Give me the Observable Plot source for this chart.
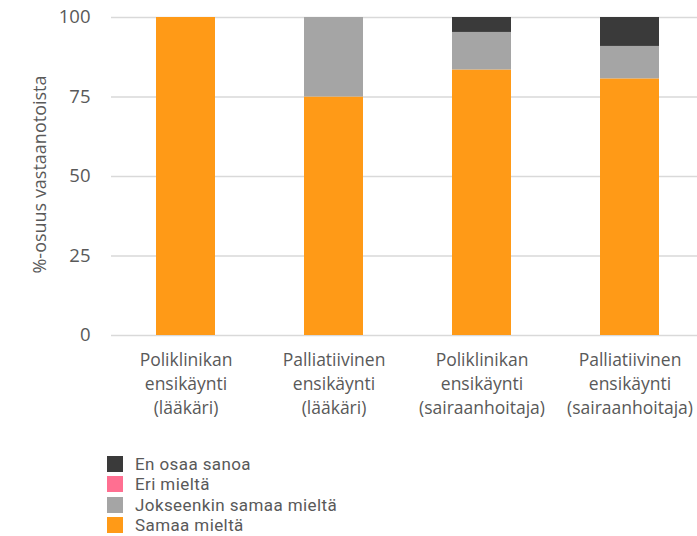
<!DOCTYPE html>
<html><head><meta charset="utf-8">
<script src="https://cdn.jsdelivr.net/npm/d3@7"></script>
<script src="https://cdn.jsdelivr.net/npm/@observablehq/plot@0.6"></script>
<style>
body{margin:0;background:#fff;font-family:"Open Sans",sans-serif;}
#legend{margin-left:107px;margin-top:24px;font-family:Roboto,sans-serif;font-size:17px;line-height:20px;letter-spacing:0.4px;color:#595959;}
.row{display:flex;align-items:center;height:20.3px;}
.sw{width:16px;height:16px;margin-right:12px;flex:none;}
</style></head>
<body><div id="chart"></div><div id="legend"></div>
<script>
const categories = [
  "Poliklinikan\nensikäynti\n(lääkäri)",
  "Palliatiivinen\nensikäynti\n(lääkäri)",
  "Poliklinikan\nensikäynti\n(sairaanhoitaja)",
  "Palliatiivinen\nensikäynti\n(sairaanhoitaja)"
];
const seriesNames = ["Samaa mieltä","Jokseenkin samaa mieltä","Eri mieltä","En osaa sanoa"];
const samaa = [100, 75, 83.5, 80.7];
const jokseenkin = [0, 25, 11.8, 10.2];
const eri = [0, 0, 0, 0];
const enOsaa = [0, 0, 4.7, 9.1];
const colors = ["#ff9a17", "#a5a5a5", "#ff6f91", "#3a3a3a"];
const yTicks = [0, 25, 50, 75, 100];
const yLabel = "%-osuus vastaanotoista";

const seriesValues = [samaa, jokseenkin, eri, enOsaa];
const data = [];
seriesNames.forEach((s, i) => categories.forEach((c, j) => data.push({cat: c, series: s, value: seriesValues[i][j]})));

const chart = Plot.plot({
  width: 697, height: 430,
  marginLeft: 111, marginRight: 0, marginTop: 17, marginBottom: 95,
  style: {fontFamily: "'Open Sans', sans-serif", color: "#595959", background: "#fff"},
  x: {domain: categories, range: [112, 704], paddingInner: 0.6, paddingOuter: 0.3},
  y: {domain: [0, 100]},
  color: {domain: seriesNames, range: colors},
  marks: [
    Plot.gridY(yTicks, {stroke: "#d9d9d9", strokeOpacity: 1, strokeWidth: 1.5}),
    Plot.barY(data, {x: "cat", y: "value", fill: "series", order: seriesNames}),
    Plot.axisY({ticks: yTicks, tickSize: 0, tickPadding: 21, fontSize: 18.5, fill: "#595959", label: null}),
    Plot.text([yLabel], {frameAnchor: "left", textAnchor: "middle", rotate: -90, dx: -71, dy: -2, fontSize: 18, fill: "#595959"}),
    Plot.axisX({tickSize: 0, tickPadding: 14, fontSize: 17.5, lineHeight: 1.36, fill: "#595959", label: null})
  ]
});
document.getElementById("chart").append(chart);

const legend = document.getElementById("legend");
[...seriesNames].reverse().forEach((s) => {
  const i = seriesNames.indexOf(s);
  const row = document.createElement("div"); row.className = "row";
  const sw = document.createElement("div"); sw.className = "sw"; sw.style.background = colors[i];
  const t = document.createElement("span"); t.textContent = s;
  row.append(sw, t); legend.append(row);
});
</script></body></html>
